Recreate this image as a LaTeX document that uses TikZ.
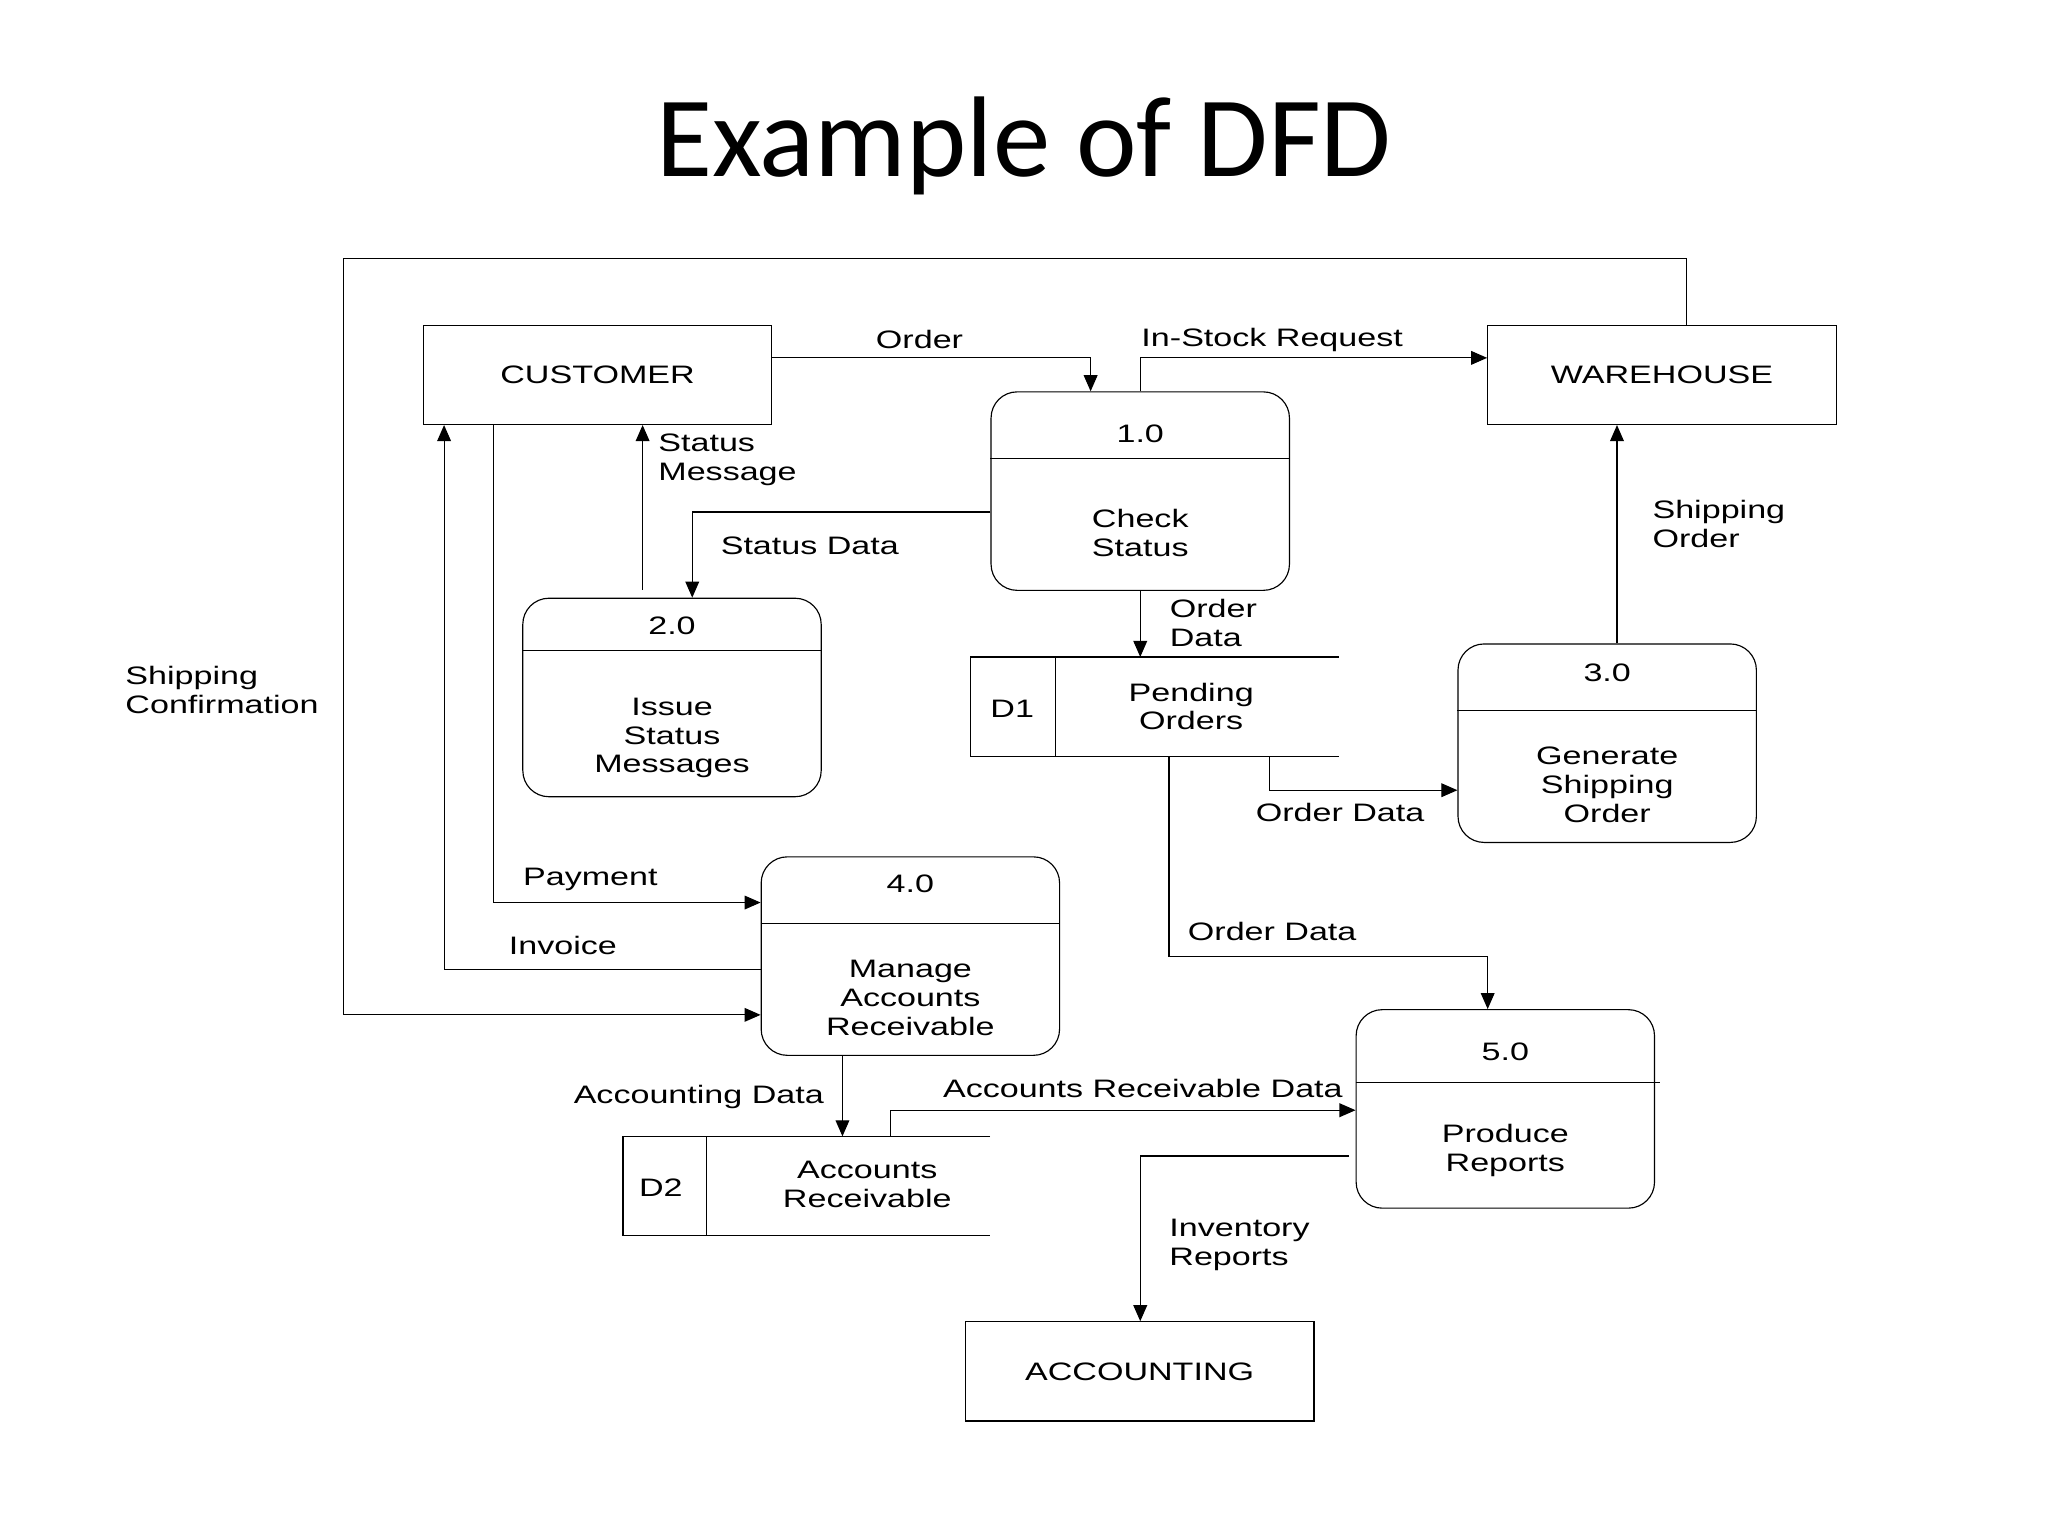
\documentclass[tikz,border=0pt]{standalone}
\usepackage{fontspec}
\setmainfont{Liberation Sans}[FakeStretch=1.35]
\newfontfamily\titlefont{Carlito}
\usetikzlibrary{arrows.meta}
\begin{document}
\begin{tikzpicture}[x=0.02cm,y=-0.02cm,
  every node/.style={font=\fontsize{11}{12.5}\selectfont, align=center},
  ent/.style={draw, minimum width=5.34cm, minimum height=1.52cm, inner sep=0pt},
  proc/.style={draw, rounded corners=0.4cm, minimum width=4.57cm, minimum height=3.04cm, inner sep=0pt},
  lbl/.style={align=left},
  arr/.style={-{Triangle[length=7pt,width=6pt]}},
  line width=0.5pt]
\useasboundingbox (0,0) rectangle (1568,1176);
\node[font=\titlefont\fontsize{50}{55}\selectfont] (title) at (784,112) {Example of DFD};

\node[ent] (cust) at (457.5,287) {CUSTOMER};
\node[ent] (wh) at (1272.5,287) {WAREHOUSE};
\node[ent] (acc) at (872.5,1050) {ACCOUNTING};

\node[proc] (p1) at (873,376) {};
\draw (p1.west |- 0,351) -- (p1.east |- 0,351);
\node (p1n) at (873,332) {1.0};
\node (p1t) at (873,408) {Check\\Status};

\node[proc] (p2) at (514.5,534) {};
\draw (p2.west |- 0,498) -- (p2.east |- 0,498);
\node (p2n) at (514.5,479) {2.0};
\node (p2t) at (514.5,565) {Issue\\Status\\Messages};

\node[proc] (p3) at (1230.5,569) {};
\draw (p3.west |- 0,544) -- (p3.east |- 0,544);
\node (p3n) at (1230.5,515) {3.0};
\node (p3t) at (1230.5,601) {Generate\\Shipping\\Order};

\node[proc] (p4) at (697,732) {};
\draw (p4.west |- 0,707) -- (p4.east |- 0,707);
\node (p4n) at (697,677) {4.0};
\node (p4t) at (697,764) {Manage\\Accounts\\Receivable};

\node[proc] (p5) at (1152.5,849) {};
\draw (p5.west |- 0,829) -- (1271,829);
\node (p5n) at (1152.5,805) {5.0};
\node (p5t) at (1152.5,881) {Produce\\Reports};

% data stores
\draw (1025,503) -- (743,503) -- (743,579) -- (1025,579);
\draw (808,503) -- (808,579);
\node (d1) at (775,543) {D1};
\node (d1t) at (912,541) {Pending\\Orders};
\coordinate (d1top) at (873,503);
\draw (758,870) -- (477,870) -- (477,946) -- (758,946);
\draw (541,870) -- (541,946);
\node (d2) at (506,909) {D2};
\node (d2t) at (664,907) {Accounts\\Receivable};
\coordinate (d2top) at (645,870);

% connectors
\draw[arr] (591,274) -- (835,274) -- (p1.north -| 835,0);
\node (l1) at (704,260) {Order};
\draw[arr] (p1.north -| 873,0) -- (873,274) -- (wh.west |- 0,274);
\node (l2) at (974,260) {In-Stock Request};
\draw[arr] (wh.north -| 1291,0) -- (1291,198) -- (263,198) -- (263,777) -- (p4.west |- 0,777);
\node[lbl] (l3) at (170,528) {Shipping\\Confirmation};
\draw[arr] (p1.west |- 0,392) -- (530,392) -- (p2.north -| 530,0);
\node (l4) at (620,418) {Status Data};
\draw[arr] (p2.north -| 492,0) ++(0,-6) -- (cust.south -| 492,0);
\node[lbl] (l5) at (557,352) {Status\\Message};
\draw[arr] (p1.south) -- (d1top);
\node[lbl] (l6) at (929,477) {Order\\Data};
\draw[arr] (972,579) -- (972,605) -- (p3.west |- 0,605);
\node (l7) at (1026,622) {Order Data};
\draw[arr] (p3.north -| 1238,0) -- (wh.south -| 1238,0);
\node[lbl] (l8) at (1316,401) {Shipping\\Order};
\draw[arr] (895,579) -- (895,732) -- (1139,732) -- (p5.north -| 1139,0);
\node (l9) at (974,713) {Order Data};
\draw[arr] (cust.south -| 378,0) -- (378,691) -- (p4.west |- 0,691);
\node (l10) at (452,673) {Payment};
\draw[arr] (p4.west |- 0,742) -- (340,742) -- (cust.south -| 340,0);
\node (l11) at (431,724) {Invoice};
\draw[arr] (p4.south -| 645,0) -- (d2top);
\node (l12) at (535,840) {Accounting Data};
\draw[arr] (682,870) -- (682,850) -- (p5.west |- 0,850);
\node (l13) at (875,833) {Accounts Receivable Data};
\draw[arr] (1033,885) -- (873,885) -- (acc.north -| 873,0);
\node[lbl] (l14) at (949,953) {Inventory\\Reports};
\end{tikzpicture}
\end{document}
